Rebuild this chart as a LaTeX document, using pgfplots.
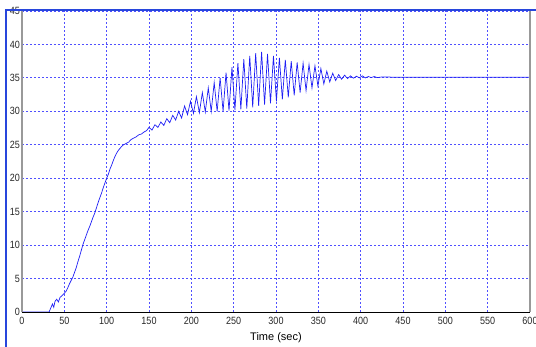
\documentclass[border=0pt]{standalone}
\usepackage{fontspec}
\setmainfont{Liberation Sans}
\newfontfamily\tickfont{Liberation Sans}[FakeStretch=0.86]
\usepackage{pgfplots}
\pgfplotsset{compat=1.18}
\definecolor{gridblue}{RGB}{80,80,255}
\definecolor{curveblue}{RGB}{30,30,245}
\definecolor{winblue}{RGB}{40,70,220}
\begin{document}
\begin{tikzpicture}
\begin{axis}[
  scale only axis, width=508pt, height=301pt,
  xmin=0, xmax=600, ymin=0, ymax=45,
  xtick={0,50,...,600}, ytick={0,5,...,45},
  /pgf/number format/assume math mode=true,
  tick label style={font=\tickfont\fontsize{10.5}{12}\selectfont, text=black!85},
  xlabel={Time (sec)},
  xlabel style={font=\fontsize{11}{13}\selectfont, yshift=-1pt},
  grid=major,
  major grid style={gridblue, dash pattern=on 2pt off 2pt, line width=0.8pt},
  tick style={draw=none},
  axis line style={draw=none},
  xticklabel style={yshift=-2pt},
  yticklabel style={xshift=1.5pt},
  clip=false,
]
\addplot[curveblue, line width=0.7pt] coordinates {
(0,0) (32,0) (34,0.6) (36,1.2) (37.5,0.7) (39,1.6) (41,1.9) (43,1.5) (45,2.2) (47,2.4)
(50,2.8) (52,3.1) (54,3.6) (56,4.2) (58,4.7) (60,5.2) (62,5.9) (64,6.6) (66,7.5) (68,8.3)
(70,9.2) (72,10.1) (74,10.8) (76,11.5) (78,12.2) (80,12.8) (82,13.5) (84,14.2) (86,14.8)
(88,15.6) (90,16.4) (92,17.1) (94,17.8) (96,18.6) (98,19.3) (100,20.0) (102,20.6) (104,21.4)
(106,22.0) (108,22.7) (110,23.3) (112,23.8) (114,24.2) (116,24.5) (118,24.8) (120,25.0)
(123,25.2) (126,25.4) (129,25.8) (132,26.0) (135,26.2) (138,26.5) (141,26.6) (144,26.9) (147,27.1)
(150,27.6) (153.5,27.2) (157,28.0) (160.5,27.6) (164,28.4) (167.5,27.9) (171,28.9) (174.5,28.3)
(178,29.4) (181.5,28.7) (185,30.0) (188.5,29.0) (192,30.8) (195.5,29.5) (199,31.5) (202.5,29.7)
(206,32.2) (209.5,29.8) (213,32.8) (216.5,29.9) (220,33.5) (223.5,30.0) (227,34.3) (230.5,30.0)
(234,35.0) (237.5,30.0) (241,35.8) (244.5,30.1) (248,36.6) (251.5,30.2) (255,37.2) (258.5,30.3)
(262,37.8) (265.5,30.4) (269,38.3) (272.5,30.6) (276,38.7) (279.5,30.8) (283,38.9) (286.5,31.0)
(290,38.6) (293.5,31.2) (297,38.3) (300.5,31.5) (304,38.0) (307.5,31.8) (311,37.7) (314.5,32.1)
(318,37.5) (321.5,32.4) (325,37.3) (328.5,32.8) (332,37.2) (335.5,33.1) (339,37.0) (342.5,33.5)
(346,36.8) (349.5,33.8) (353,36.4) (356.5,34.1) (360,36.0) (363.5,34.4) (367,35.7) (370.5,34.6)
(374,35.5) (377.5,34.8) (381,35.4) (384.5,34.9) (388,35.3) (391.5,34.95) (395,35.25) (398.5,35.0)
(402,35.3) (405.5,35.0) (409,35.2) (412.5,35.05) (416,35.2) (419.5,35.05) (426,35.15) (440,35.1)
(600,35.1)
};
\coordinate (LL) at (rel axis cs:0,0);
\coordinate (UL) at (rel axis cs:0,1);
\coordinate (LR) at (rel axis cs:1,0);
\coordinate (UR) at (rel axis cs:1,1);
\end{axis}
\draw[black!40, line width=1.6pt] (LL) -- (UL);
\draw[black!40, line width=1.2pt] (LR) -- (UR);
\draw[black, line width=0.8pt] (LL) -- (LR);
\draw[winblue, line width=2pt] (-17pt,302pt) -- (514pt,302pt);
\draw[winblue, line width=2pt] (-16pt,-35pt) -- (-16pt,303pt);
\pgfresetboundingbox
\path[use as bounding box] (-22pt,-35pt) rectangle (514pt,312pt);
\end{tikzpicture}
\end{document}
